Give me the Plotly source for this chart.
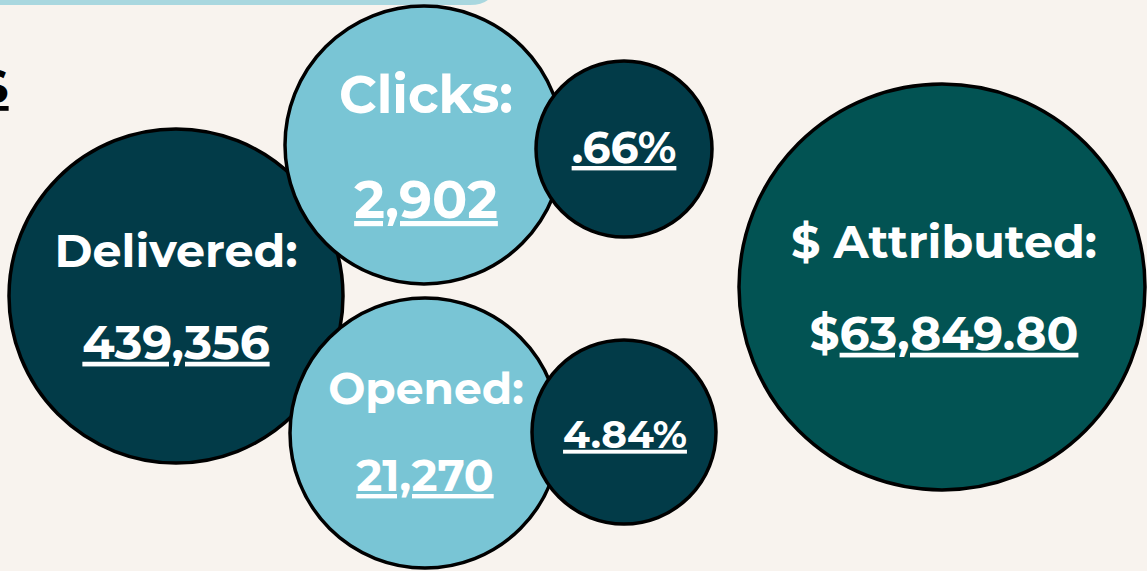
import plotly.graph_objects as go

# ---- data ----
metric_labels = ["Delivered:", "Clicks:", "Opened:", "$ Attributed:"]
metric_values = ["439,356", "2,902", "21,270", "$63,849.80"]
rate_labels = [".66%", "4.84%"]

# ---- layout / style (pixel coordinate space) ----
W, H = 1147, 571
BG = "#F8F3EE"
DARK = "#023B48"
LIGHT = "#79C5D5"
TEAL = "#025353"

# circles: delivered, clicks, opened, click-rate, open-rate, attributed
cx = [176, 424, 425, 624, 624, 942]
cy = [296, 145, 433, 149, 432, 287]
diam = [334, 278, 270, 176, 184, 406]
fills = [DARK, LIGHT, LIGHT, DARK, DARK, TEAL]

font_family = "Montserrat, Inter, 'Open Sans', sans-serif"

fig = go.Figure()

fig.add_trace(go.Scatter(
    x=cx, y=cy, mode="markers",
    marker=dict(size=diam, sizemode="diameter", color=fills,
                line=dict(color="black", width=3.5), opacity=1),
    hoverinfo="skip", showlegend=False,
))

# labels and values
lab_x = [176, 426, 426, 944]
lab_y = [255, 100, 393, 246]
val_x = [176, 426, 425, 944]
val_y = [347, 205, 480, 338]
lab_size = [46, 52, 44, 46]
val_size = [47, 52, 44, 47]

def ul(v):
    if v.startswith("$"):
        return "$<u>" + v[1:] + "</u>"
    return "<u>" + v + "</u>"

for i in range(len(metric_labels)):
    fig.add_trace(go.Scatter(
        x=[lab_x[i]], y=[lab_y[i]], mode="text", text=[metric_labels[i]],
        textposition="middle center",
        textfont=dict(family=font_family, size=lab_size[i], color="white", weight=700),
        hoverinfo="skip", showlegend=False,
    ))
    fig.add_trace(go.Scatter(
        x=[val_x[i]], y=[val_y[i]], mode="text", text=[ul(metric_values[i])],
        textposition="middle center",
        textfont=dict(family=font_family, size=val_size[i], color="white", weight=700),
        hoverinfo="skip", showlegend=False,
    ))

rate_x = [624, 625]
rate_y = [152, 438]
rate_size = [44, 39]
for i in range(len(rate_labels)):
    fig.add_trace(go.Scatter(
        x=[rate_x[i]], y=[rate_y[i]], mode="text", text=[ul(rate_labels[i])],
        textposition="middle center",
        textfont=dict(family=font_family, size=rate_size[i], color="white", weight=700),
        hoverinfo="skip", showlegend=False,
    ))

# cropped title fragment at left edge
fig.add_annotation(x=11, y=86, xref="x", yref="y", text="<u>S</u>",
                   xanchor="right", yanchor="middle", showarrow=False,
                   font=dict(family=font_family, size=48, color="black", weight=700))

# light blue bar at the top
fig.add_shape(type="path",
              path="M -20 -40 L 470 -40 Q 495 -40 495 -18 Q 495 5 470 5 L -20 5 Z",
              xref="x", yref="y", fillcolor="#A9D7DF", line=dict(width=0), layer="below")

fig.update_layout(
    width=W, height=H,
    margin=dict(l=0, r=0, t=0, b=0),
    paper_bgcolor=BG, plot_bgcolor=BG,
    xaxis=dict(range=[0, W], visible=False, fixedrange=True),
    yaxis=dict(range=[H, 0], visible=False, fixedrange=True),
    showlegend=False,
)

fig.write_html("out.html", config={"displayModeBar": False},
               post_script="document.body.style.margin='0';document.body.style.overflow='hidden';")
